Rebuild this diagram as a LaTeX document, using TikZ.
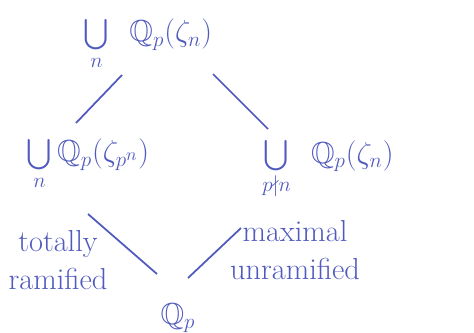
\documentclass[tikz,border=0pt]{standalone}
\usepackage{amsmath}
\usepackage{amssymb}
\usetikzlibrary{positioning}
\definecolor{inkblue}{RGB}{80,90,190}

\begin{document}
\begin{tikzpicture}[
    field/.style={inkblue, font=\LARGE, inner sep=2pt},
    lbl/.style={inkblue, font=\LARGE, align=center},
    link/.style={inkblue, line width=1pt}]
    \useasboundingbox (0,0) rectangle (9.48,-6.64);

    % Fields
    \node[field] (top) at (2.96,-0.90) {$\bigcup\limits_{n}\enspace\mathbb{Q}_p(\zeta_n)$};
    \node[field] (left) at (1.76,-3.30) {$\bigcup\limits_{n}\mathbb{Q}_p(\zeta_{p^n})$};
    \node[field] (right) at (6.56,-3.40) {$\bigcup\limits_{p\nmid n}\enspace\mathbb{Q}_p(\zeta_n)$};
    \node[field] (base) at (3.56,-6.36) {$\mathbb{Q}_p$};

    % Inclusions
    \draw[link] ([shift={(-0.52,-0.60)}]top.center) -- ([shift={(-0.24,0.84)}]left.center);
    \draw[link] ([shift={(1.30,-0.58)}]top.center) -- ([shift={(-1.20,0.82)}]right.center);
    \draw[link] ([shift={(0,-0.98)}]left.center) -- ([shift={(-0.42,0.88)}]base.center);
    \draw[link] ([shift={(-1.74,-1.16)}]right.center) -- ([shift={(0.20,0.80)}]base.center);

    % Labels
    \node[lbl] (tot) at (1.16,-5.20) {totally\\ramified};
    \node[lbl] (unr) at (5.90,-5.00) {maximal\\unramified};
\end{tikzpicture}
\end{document}
